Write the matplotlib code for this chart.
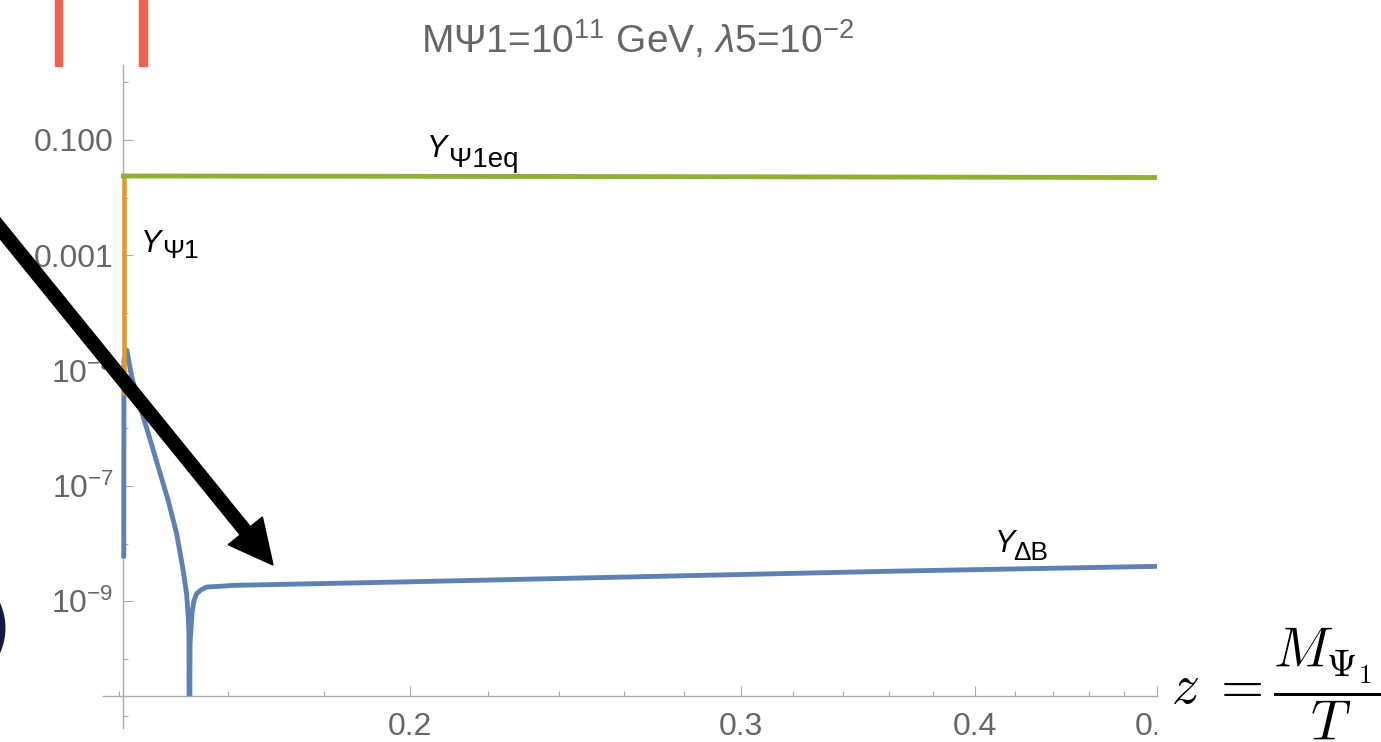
import matplotlib
matplotlib.use('Agg')
import matplotlib.pyplot as plt
import numpy as np
from matplotlib.patches import Rectangle, FancyArrow, Ellipse
from matplotlib.transforms import IdentityTransform, Bbox
from matplotlib.ticker import FixedLocator, FixedFormatter, NullFormatter

plt.rcParams['font.family'] = ['Liberation Sans', 'DejaVu Sans']
plt.rcParams['mathtext.fontset'] = 'custom'
plt.rcParams['mathtext.rm'] = 'Liberation Sans'
plt.rcParams['mathtext.it'] = 'Liberation Sans:italic'

# ---- data ----
z_eq = [0.14027, 0.2, 0.3, 0.4, 0.5]
Y_eq = [0.0237, 0.0234, 0.0230, 0.0226, 0.0223]

z_psi = [0.14075, 0.14075]
Y_psi = [0.0237, 3.7e-6]

z_dB = [0.14075, 0.14078, 0.14128, 0.14212, 0.14327, 0.14505, 0.14683, 0.14863,
        0.15018, 0.15129, 0.15203, 0.15234, 0.15247, 0.15256, 0.15267, 0.15306,
        0.15342, 0.15391, 0.15474, 0.15582, 0.15838, 0.16093, 0.19756, 0.2855,
        0.3647, 0.5]
Y_dB = [5.5e-9, 1.5e-5, 2.26e-5, 7.8e-6, 3.06e-6, 8.1e-7, 2.13e-7, 5.6e-8,
        1.49e-8, 3.9e-9, 1.35e-9, 5.3e-10, 2.7e-10, 1e-13, 1.83e-10, 6.4e-10,
        1.03e-9, 1.35e-9, 1.57e-9, 1.76e-9, 1.81e-9, 1.88e-9, 2.15e-9, 2.8e-9,
        3.33e-9, 4.02e-9]

xmajor = [0.2, 0.3, 0.4, 0.5]
xmajor_labels = ['0.2', '0.3', '0.4', '0.5']
xminor = [0.14, 0.16, 0.18, 0.22, 0.24, 0.26, 0.28, 0.32, 0.34, 0.36, 0.38,
          0.42, 0.44, 0.46, 0.48]
ymajor = [1e-1, 1e-3, 1e-5, 1e-7, 1e-9]
ymajor_labels = ['0.100', '0.001', r'$10^{-5}$', r'$10^{-7}$', r'$10^{-9}$']
yminor = [1e0, 1e-2, 1e-4, 1e-6, 1e-8, 1e-10, 1e-11]

blue = '#5E81B5'
orange = '#E19C24'
green = '#8FB032'
axcol = '#ababab'
labcol = '#666666'

W, H = 1381, 742
fig = plt.figure(figsize=(W / 100, H / 100), dpi=100)
ax = fig.add_axes([103 / W, (H - 728) / H, (1157 - 103) / W, (728 - 65) / H])
ax.set_xscale('log')
ax.set_yscale('log')
ax.set_xlim(0.13721, 0.5)
ax.set_ylim(10 ** -11.2, 10 ** 0.3)
ax.patch.set_alpha(0)

clip = Rectangle((0.1, 10 ** -10.65), 1.0, 10.0, transform=ax.transData)
l1, = ax.plot(z_dB, Y_dB, color=blue, lw=3.5, zorder=3, solid_capstyle='butt',
              solid_joinstyle='round')
l1.set_clip_path(clip)
ax.plot(z_psi, Y_psi, color=orange, lw=3.3, zorder=4, solid_capstyle='butt')
ax.plot(z_eq, Y_eq, color=green, lw=3.5, zorder=5, solid_capstyle='butt')

for s in ['top', 'right']:
    ax.spines[s].set_visible(False)
ax.spines['left'].set_position(('data', 0.1407))
ax.spines['bottom'].set_position(('data', 10 ** -10.65))
for s in ['left', 'bottom']:
    ax.spines[s].set_color(axcol)
    ax.spines[s].set_linewidth(1.0)

ax.xaxis.set_major_locator(FixedLocator(xmajor))
ax.xaxis.set_major_formatter(FixedFormatter(xmajor_labels))
ax.xaxis.set_minor_locator(FixedLocator(xminor))
ax.xaxis.set_minor_formatter(NullFormatter())
ax.yaxis.set_major_locator(FixedLocator(ymajor))
ax.yaxis.set_major_formatter(FixedFormatter(ymajor_labels))
ax.yaxis.set_minor_locator(FixedLocator(yminor))
ax.yaxis.set_minor_formatter(NullFormatter())

ax.tick_params(which='both', direction='in', color=axcol, width=0.8,
               labelcolor=labcol, labelsize=23)
ax.tick_params(which='major', length=7.2)
ax.tick_params(which='minor', length=3.6)
ax.tick_params(axis='x', which='major', pad=11)
ax.tick_params(axis='y', which='major', pad=7)

# curve labels
def curve_label(x, y, sub, dx, dy, subsize=19):
    ax.text(x, y, 'Y', fontsize=22, style='italic', color='black',
            va='baseline', ha='left', zorder=6)
    ax.annotate(sub, xy=(x, y), xytext=(dx, -dy), textcoords='offset points',
                fontsize=subsize, color='black', va='baseline', ha='left', zorder=6)

curve_label(0.2042, 0.0507, 'Ψ1eq', 16, 7, 20)
curve_label(0.14364, 1.137e-3, 'Ψ1', 15.5, 4.5)
curve_label(0.41, 7.03e-9, 'ΔB', 13, 5.8)

# title
fig.text(638 / W, 1 - 53 / H, r'MΨ1=10$^{11}$ GeV, $\lambda$5=10$^{-2}$',
         fontsize=28, color=labcol, ha='center', va='baseline')

# axis label pasted at right
fig.text(1171 / W, 1 - 704 / H, r'$z\;=\dfrac{M_{\Psi_1}}{T}$', fontsize=40,
         color='black', ha='left', va='baseline', math_fontfamily='cm')

# annotation marks on top of the figure
idt = IdentityTransform()
fig.add_artist(Rectangle((55, H - 66), 7, 66, color='#F2604E', transform=idt))
fig.add_artist(Rectangle((139, H - 66), 8, 66, color='#F2604E', transform=idt))
fig.add_artist(Ellipse((-52, H - 628), 108, 112, fill=False, edgecolor='#141a40',
                       lw=5, transform=idt))
fig.add_artist(FancyArrow(-10, H - 216, 283, -349, width=13, head_width=44,
                          head_length=44, length_includes_head=True,
                          color='black', transform=idt, zorder=10))

# the last tick label is cut by the pasted label
fig.canvas.draw()
for tick in ax.xaxis.get_major_ticks():
    if abs(tick.get_loc() - 0.5) < 1e-6:
        tick.label1.set_clip_box(Bbox([[0, 0], [1157, H]]))
        tick.label1.set_clip_on(True)

fig.savefig('out.png', dpi=100)
